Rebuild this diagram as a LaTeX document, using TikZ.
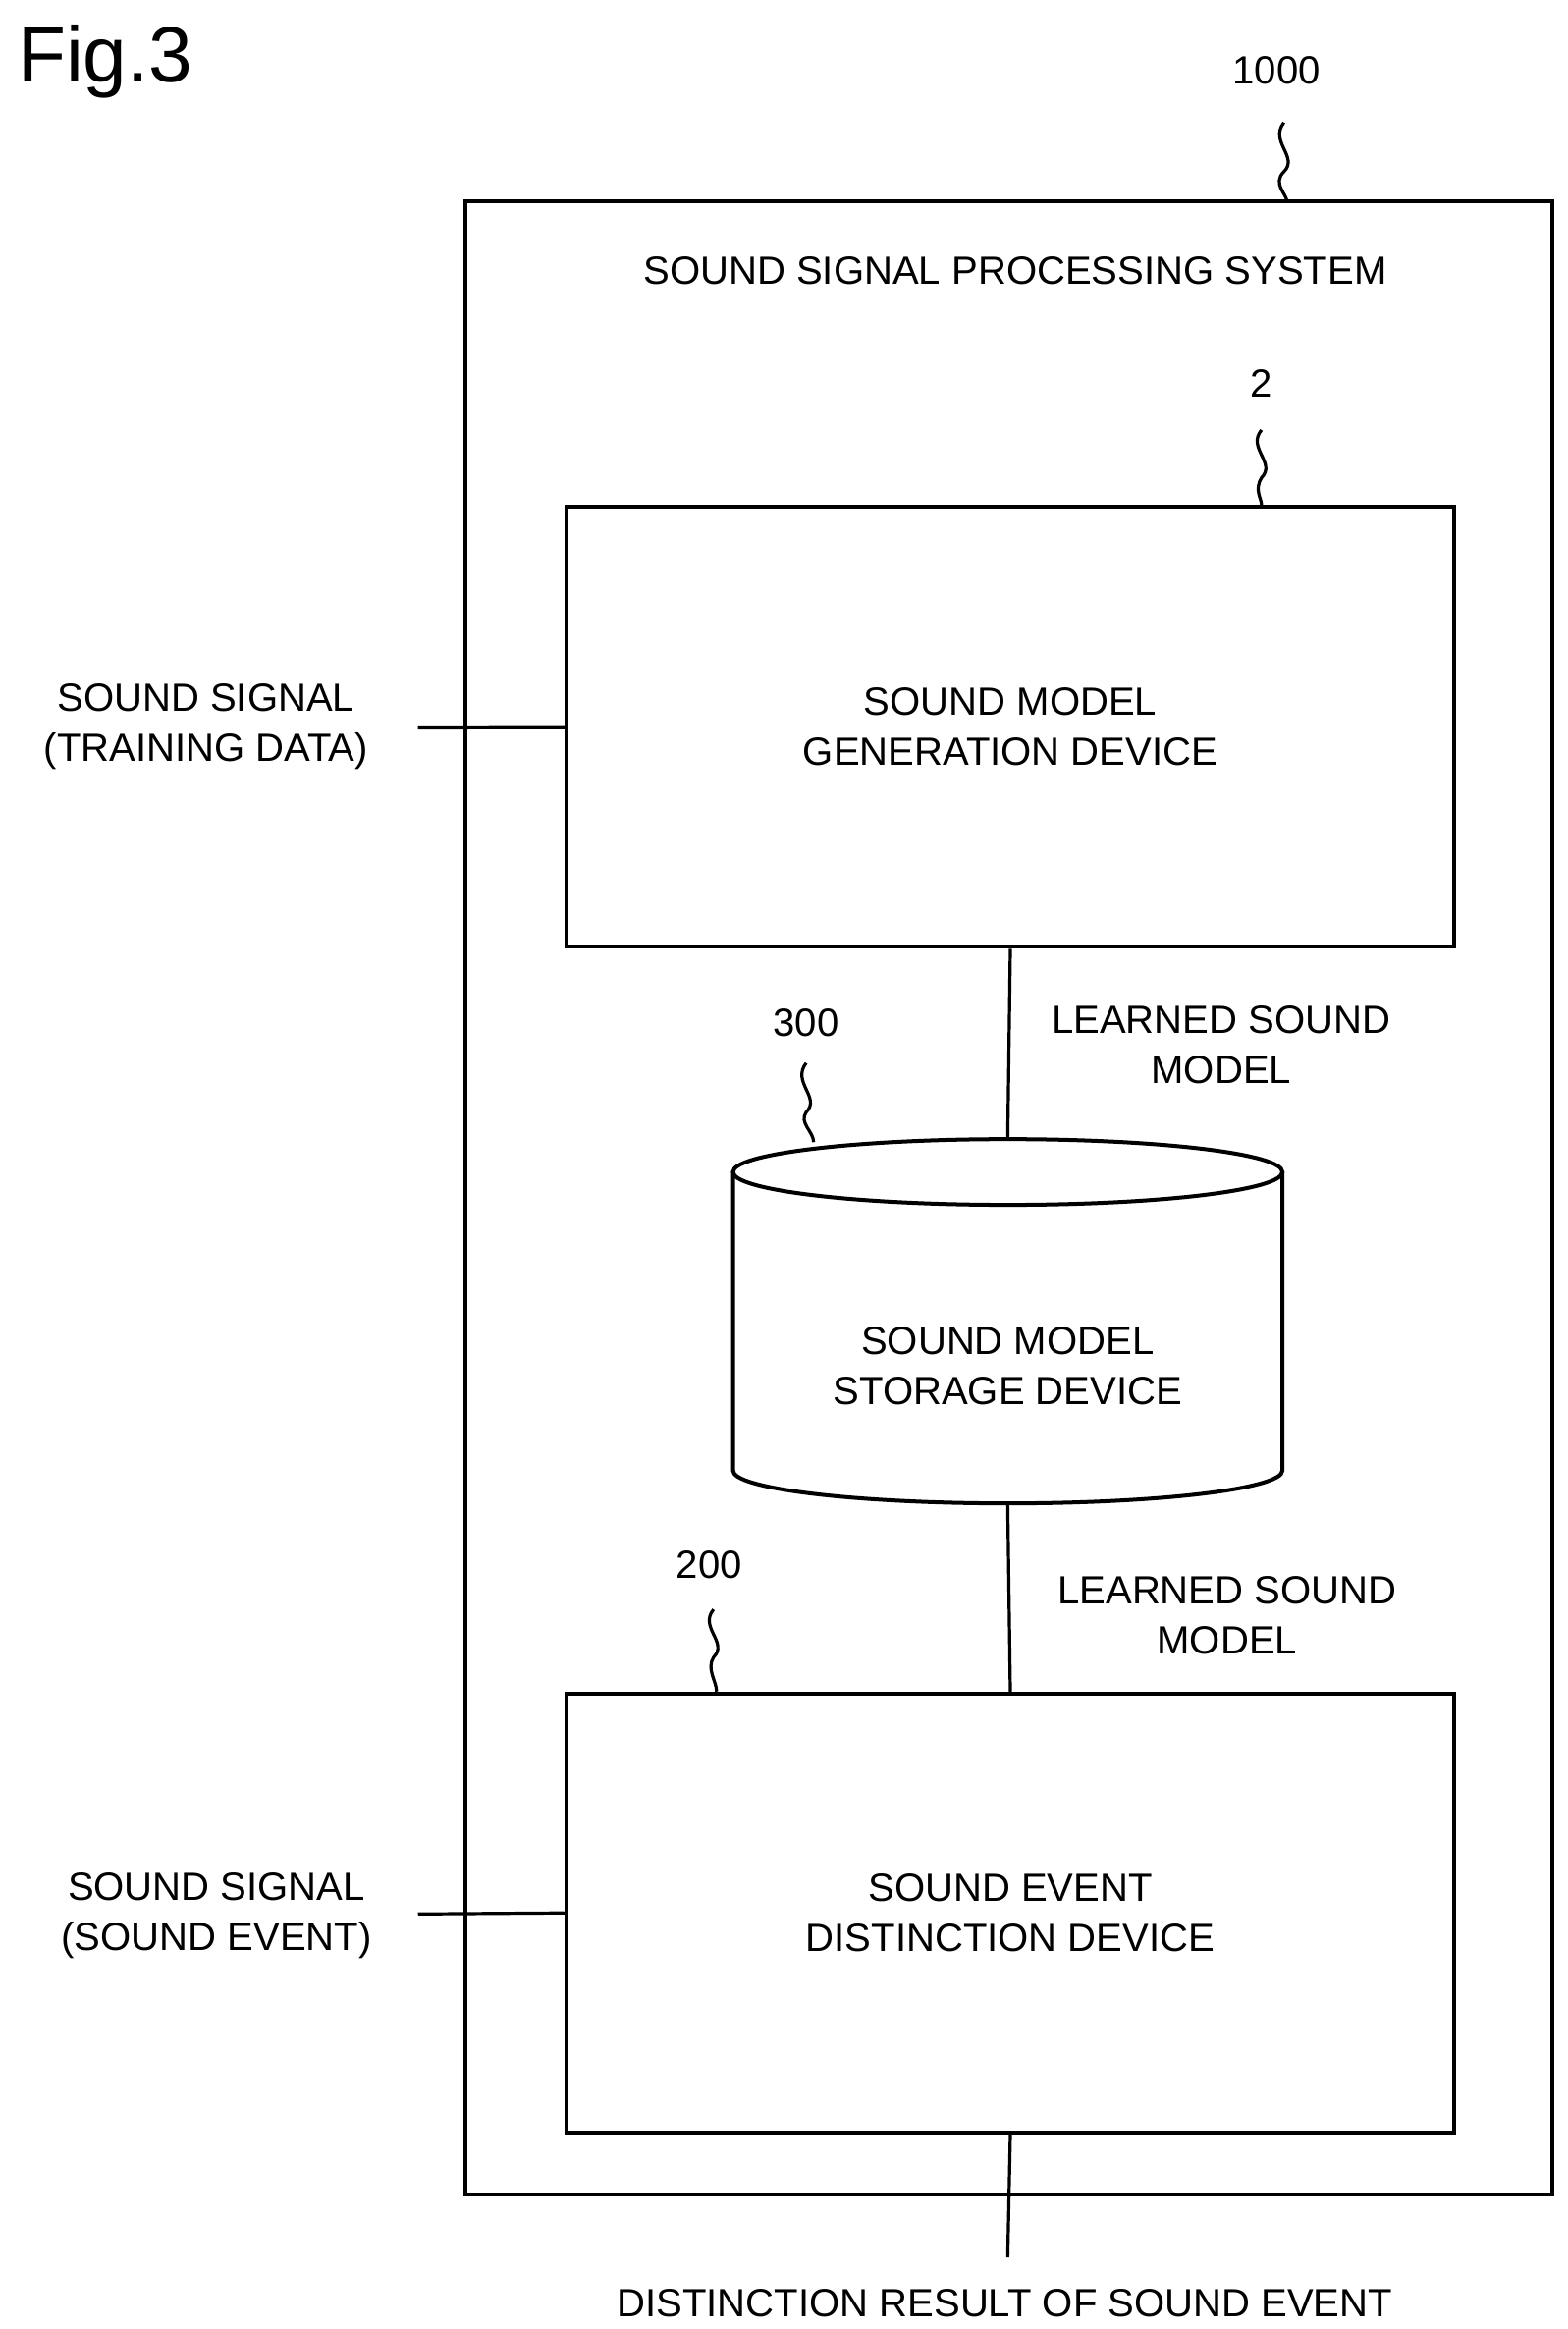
\documentclass[tikz,border=0pt]{standalone}
\usepackage{fontspec}
\setmainfont{Liberation Sans}
\usetikzlibrary{positioning}
\begin{document}
\begin{tikzpicture}[x=0.02cm,y=-0.02cm,line width=1.2pt,
    lbl/.style={font=\fontsize{15}{19}\selectfont, align=center},
    box/.style={draw, line width=1.5pt, anchor=north west}]
    \useasboundingbox (0,0) rectangle (1050,1560);

    % Title
    \node[font=\fontsize{30}{34}\selectfont, anchor=north west] at (5,10) {Fig.3};

    % Outer system
    \draw[line width=1.5pt] (312,135) rectangle (1040,1470);
    \node[lbl] (sys) at (680,181) {SOUND SIGNAL PROCESSING SYSTEM};
    \node[lbl] (n1000) at (855,47) {1000};
    \draw (860,82) .. controls (850,95) and (870,105) .. (860,115) .. controls (852,123) and (862,130) .. (862,135);

    % Generation device
    \node[box, minimum width=11.9cm, minimum height=5.9cm] (gen) at (378,338) {};
    \node[lbl] at (gen.center) {SOUND MODEL\\GENERATION DEVICE};
    \node[lbl] (n2) at (845,257) {2};
    \draw (845,288) .. controls (835,300) and (855,310) .. (845,320) .. controls (840,328) and (845,334) .. (845,338);

    % Storage device
    \coordinate (dbtop) at (675,763);
    \coordinate (dbbot) at (675,1007);
    \draw[line width=1.5pt] (491,785) -- (491,985) arc[start angle=180,end angle=0,x radius=184,y radius=22] -- (859,785);
    \draw[line width=1.5pt] (675,785) ellipse (184 and 22);
    \node[lbl] (db) at (675,915) {SOUND MODEL\\STORAGE DEVICE};
    \node[lbl] (n300) at (540,685) {300};
    \draw (540,712) .. controls (530,725) and (550,735) .. (540,745) .. controls (535,752) and (545,758) .. (545,765);

    % Distinction device
    \node[box, minimum width=11.9cm, minimum height=5.88cm] (dis) at (378,1133) {};
    \node[lbl] at (dis.center) {SOUND EVENT\\DISTINCTION DEVICE};
    \node[lbl] (n200) at (475,1048) {200};
    \draw (478,1078) .. controls (468,1090) and (488,1100) .. (478,1110) .. controls (473,1118) and (480,1126) .. (480,1133);

    % Connectors
    \draw (gen.south) -- (dbtop);
    \node[lbl] at (818,700) {LEARNED SOUND\\MODEL};
    \draw (dbbot) -- (dis.north);
    \node[lbl] at (822,1082) {LEARNED SOUND\\MODEL};

    \coordinate (in1) at (280,487);
    \draw (in1) -- (gen.west);
    \node[lbl] at (138,487) {SOUND SIGNAL\\(TRAINING DATA)};
    \coordinate (in2) at (280,1282);
    \draw (in2) -- (dis.west);
    \node[lbl] at (145,1283) {SOUND SIGNAL\\(SOUND EVENT)};
    \coordinate (out) at (675,1512);
    \draw (dis.south) -- (out);
    \node[lbl] at (673,1543) {DISTINCTION RESULT OF SOUND EVENT};
\end{tikzpicture}
\end{document}
